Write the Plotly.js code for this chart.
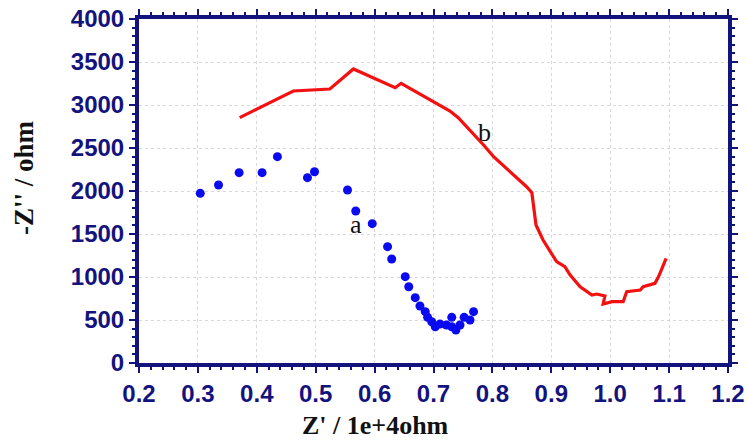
<!DOCTYPE html>
<html>
<head>
<meta charset="utf-8">
<script src="https://cdn.plot.ly/plotly-3.0.1.min.js"></script>
<style>
  html, body { margin: 0; padding: 0; background: #ffffff; }
  #chart { width: 748px; height: 446px; }
</style>
</head>
<body>
<div id="chart"></div>
<script>
// Nyquist plot: Z' (in units of 1e4 ohm) versus -Z'' (ohm)

// Series a (blue markers)
const aZre = [0.304, 0.335, 0.370, 0.409, 0.435, 0.486, 0.498, 0.554, 0.568, 0.596,
              0.622, 0.629, 0.652, 0.658, 0.669, 0.677, 0.686, 0.690, 0.697, 0.703,
              0.711, 0.722, 0.731, 0.731, 0.738, 0.745, 0.752, 0.762, 0.768];
const aZim = [1973, 2070, 2213, 2213, 2399, 2155, 2224, 2012, 1767, 1620,
              1353, 1209, 1004, 887, 760, 663, 597, 531, 480, 422,
              453, 442, 531, 422, 384, 442, 531, 500, 597];

// Series b (red line)
const bZre = [0.371, 0.462, 0.524, 0.564, 0.635, 0.645, 0.728, 0.742, 0.785, 0.802,
              0.858, 0.867, 0.874, 0.886, 0.909, 0.923, 0.932, 0.949, 0.969, 0.977,
              0.991, 0.988, 1.003, 1.022, 1.028, 1.051, 1.056, 1.076, 1.082, 1.095];
const bZim = [2853, 3163, 3186, 3419, 3201, 3252, 2930, 2852, 2535, 2399,
              2050, 1980, 1605, 1430, 1178, 1120, 1023, 887, 791, 802,
              779, 686, 713, 713, 829, 849, 887, 927, 1003, 1217];

// Curve labels and where they sit
const curveLabels = ['a', 'b'];
const labelZre = [0.568, 0.787];
const labelZim = [1605, 2686];

// Tick values
const xTicks = [0.2, 0.3, 0.4, 0.5, 0.6, 0.7, 0.8, 0.9, 1.0, 1.1, 1.2];
const xTickText = ['0.2', '0.3', '0.4', '0.5', '0.6', '0.7', '0.8', '0.9', '1.0', '1.1', '1.2'];
const yTicks = [0, 500, 1000, 1500, 2000, 2500, 3000, 3500, 4000];

// Axis title texts
const xTitle = "Z' / 1e+4ohm";
const yTitle = "-Z'' / ohm";

const navy = '#13137e';
const serif = 'Liberation Serif, Times New Roman, serif';

const traces = [
  {
    x: aZre, y: aZim, mode: 'markers', type: 'scatter', name: 'a',
    marker: { color: '#0a0af0', size: 9 }
  },
  {
    x: bZre, y: bZim, mode: 'lines', type: 'scatter', name: 'b',
    line: { color: '#f21010', width: 3.2 }
  }
];

const axisCommon = {
  showline: true, linecolor: navy, linewidth: 4, mirror: 'ticks',
  ticks: 'outside', ticklen: 6, tickwidth: 2, tickcolor: navy,
  showgrid: true, gridcolor: '#d8d8d8', gridwidth: 1, griddash: 'dot',
  zeroline: false,
  tickfont: { family: 'Liberation Sans, Arial, sans-serif', size: 24, color: navy, weight: 'bold' }
};

const curveAnnotations = curveLabels.map((t, i) => ({
  x: labelZre[i], y: labelZim[i], xref: 'x', yref: 'y',
  text: t, showarrow: false,
  font: { family: serif, size: 26, color: '#111111' }
}));

// Axis titles placed as paper-anchored text
const titleAnnotations = [
  {
    xref: 'paper', yref: 'paper', x: 0.402, y: -0.183,
    xanchor: 'center', yanchor: 'middle', showarrow: false,
    text: '<b>' + xTitle + '</b>',
    font: { family: serif, size: 26, color: '#111111' }
  },
  {
    xref: 'paper', yref: 'paper', x: -0.194, y: 0.54,
    xanchor: 'center', yanchor: 'middle', showarrow: false, textangle: -90,
    text: '<b>' + yTitle + '</b>',
    font: { family: serif, size: 27, color: '#111111' }
  }
];

const layout = {
  width: 748, height: 446,
  margin: { l: 139, r: 20, t: 19, b: 83 },
  paper_bgcolor: '#ffffff', plot_bgcolor: '#ffffff',
  showlegend: false,
  xaxis: Object.assign({}, axisCommon, {
    range: [0.2, 1.2],
    tickmode: 'array', tickvals: xTicks, ticktext: xTickText,
    minor: { dtick: 0.02, ticks: 'outside', ticklen: 3, tickwidth: 2, tickcolor: navy, showgrid: false }
  }),
  yaxis: Object.assign({}, axisCommon, {
    range: [0, 4000],
    tickmode: 'array', tickvals: yTicks,
    minor: { dtick: 100, ticks: 'outside', ticklen: 3, tickwidth: 2, tickcolor: navy, showgrid: false }
  }),
  annotations: curveAnnotations.concat(titleAnnotations)
};

Plotly.newPlot('chart', traces, layout, { staticPlot: true, displayModeBar: false });
</script>
</body>
</html>
